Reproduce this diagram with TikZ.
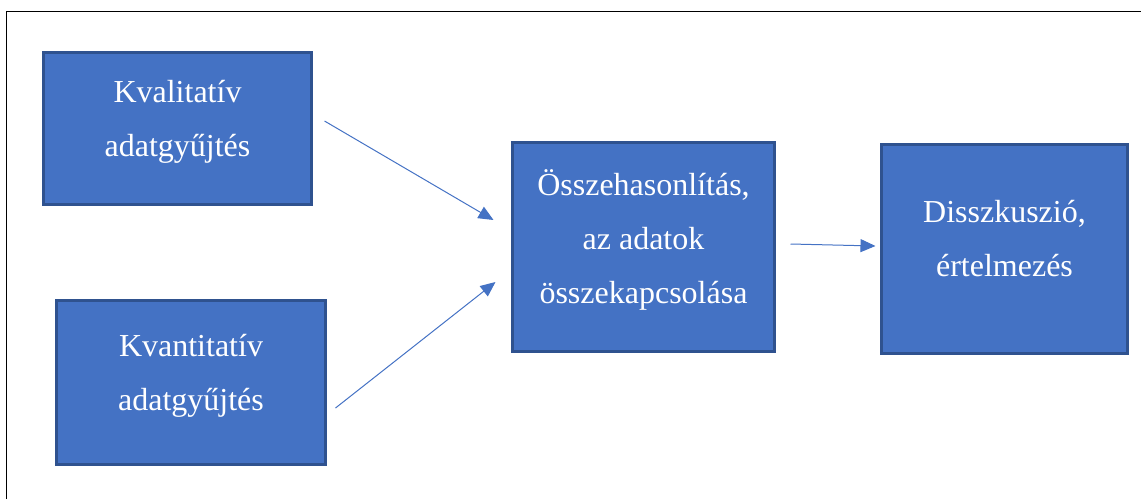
\documentclass[tikz,border=0pt]{standalone}
\usepackage{fontspec}
\setmainfont{Liberation Serif}
\usetikzlibrary{positioning, arrows.meta}
\definecolor{flowblue}{HTML}{4472C4}
\definecolor{flowedge}{HTML}{2F528F}
\newcommand{\boxstrut}{\rule[-21pt]{0pt}{21pt}}

\begin{document}
\begin{tikzpicture}[
        x=1pt, y=1pt,
        every node/.style={font=\fontsize{32}{54}\selectfont},
        box/.style={
          draw=flowedge, line width=2.5pt,
          fill=flowblue, text=white,
          outer sep=0pt, inner sep=0pt,
          align=center,
        },
        flow/.style={
          -{Triangle[length=15pt, width=13pt]}, draw=flowblue, line width=1pt,
        },
      ]
      \useasboundingbox (0,0) rectangle (1141,-499);
      \draw[line width=1.6pt] (6.5,-499) -- (6.5,-11.5) -- (1141,-11.5);

      \node[box, minimum width=268pt, minimum height=152pt] (kval) at (177.5,-128.5)
        {Kvalitatív\\adatgyűjtés\boxstrut};
      \node[box, minimum width=269pt, minimum height=164pt] (kvant) at (191,-382.5)
        {Kvantitatív\\adatgyűjtés\boxstrut};
      \node[box, minimum width=262pt, minimum height=209pt] (comp) at (643.5,-247)
        {Összehasonlítás,\\az adatok\\összekapcsolása\boxstrut};
      \node[box, minimum width=246pt, minimum height=209pt] (disc) at (1004.5,-249)
        {Disszkuszió,\\értelmezés\boxstrut};

      \draw[flow] ([xshift=13pt, yshift=7.5pt]kval.east) -- ([xshift=-19pt, yshift=27pt]comp.west);
      \draw[flow] ([xshift=10pt, yshift=-25.5pt]kvant.east) -- ([xshift=-17pt, yshift=-35pt]comp.west);
      \draw[flow] ([xshift=16pt, yshift=3pt]comp.east) -- ([xshift=-6pt, yshift=3pt]disc.west);
    \end{tikzpicture}
\end{document}
